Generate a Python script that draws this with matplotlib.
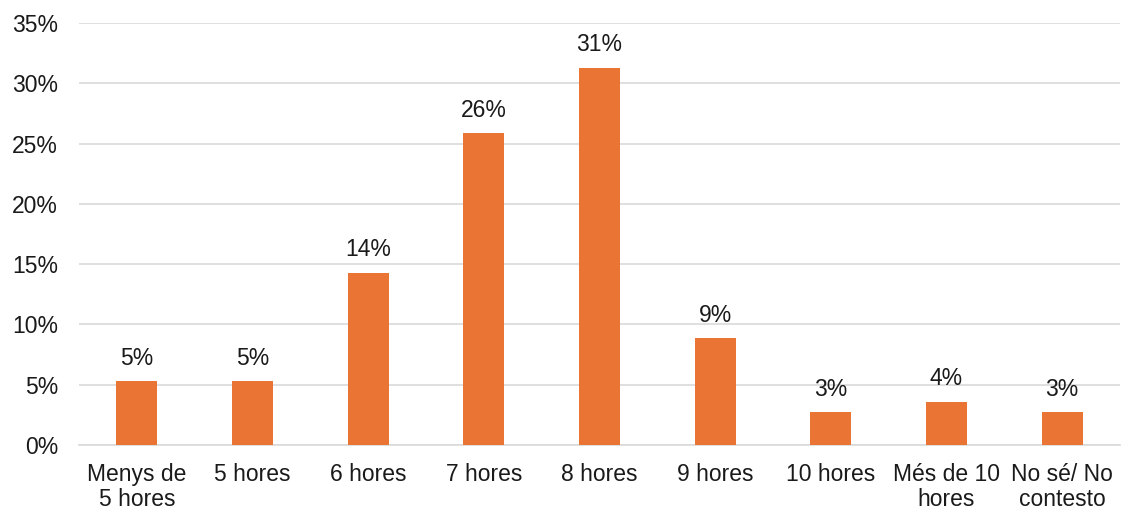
import numpy as np
import matplotlib.pyplot as plt

plt.rcParams['font.family'] = ['Liberation Sans', 'DejaVu Sans']

categories = ['Menys de\n5 hores', '5 hores', '6 hores', '7 hores', '8 hores',
              '9 hores', '10 hores', 'Més de 10\nhores', 'No sé/ No\ncontesto']
values = [5.3, 5.3, 14.3, 25.9, 31.3, 8.9, 2.7, 3.6, 2.7]
yticks = [0, 5, 10, 15, 20, 25, 30, 35]

fs = 16.5
fig = plt.figure(figsize=(11.26, 5.13), dpi=100)
ax = fig.add_axes([0.0702, 0.1326, 0.9245, 0.8226])

x = np.arange(len(categories))
ax.bar(x, values, width=0.355, color='#EA7433', zorder=3)

for xi, v in zip(x, values):
    ax.annotate(f'{round(v):.0f}%', (xi, v), xytext=(0, 8), textcoords='offset points',
                ha='center', va='bottom', fontsize=fs, color='#1a1a1a')

ax.set_xlim(-0.5, len(categories) - 0.5)
ax.set_ylim(0, 35)
ax.set_yticks(yticks)
ax.set_yticklabels([f'{t}%' for t in yticks], fontsize=fs, color='#1a1a1a')
ax.set_xticks(x)
ax.set_xticklabels(categories, fontsize=fs, color='#1a1a1a', linespacing=1.12)
ax.tick_params(axis='both', length=0)
ax.tick_params(axis='y', pad=15)
ax.tick_params(axis='x', pad=13)
ax.grid(axis='y', color='#D9D9D9', linewidth=1.2, zorder=0)
for s in ['top', 'right', 'left']:
    ax.spines[s].set_visible(False)
ax.spines['bottom'].set_color('#D9D9D9')
ax.spines['bottom'].set_linewidth(1.2)

fig.savefig('out.png', dpi=100)
